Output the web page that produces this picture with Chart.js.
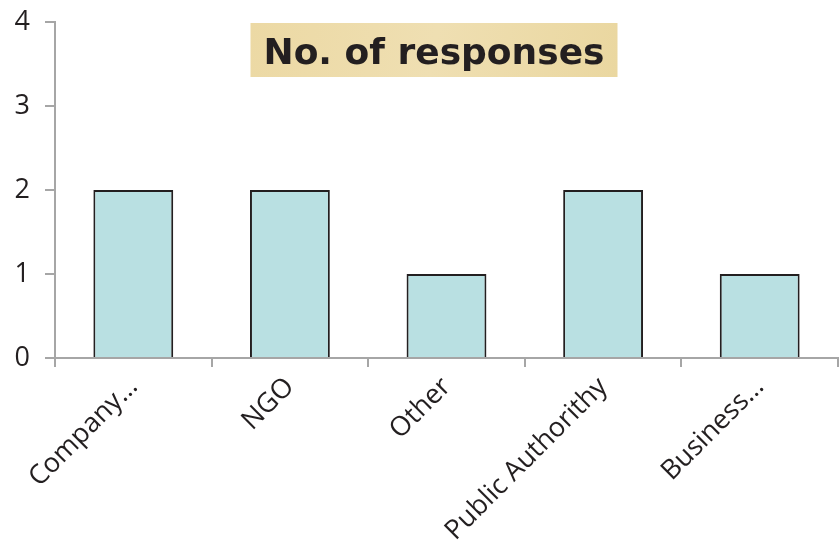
<!DOCTYPE html>
<html lang="en">
<head>
    <meta charset="UTF-8">
    <title>No. of responses</title>
    <script src="https://cdn.jsdelivr.net/npm/chart.js"></script>
    <style>
        body {
            margin: 0;
            padding: 0;
            background: #ffffff;
        }
        #wrap {
            width: 840px;
            height: 554px;
            position: relative;
        }
    </style>
</head>
<body>
    <div id="wrap"><canvas id="responsesChart" width="840" height="554"></canvas></div>
    <script>
        const categories = ['Company…', 'NGO', 'Other', 'Public Authorithy', 'Business…'];
        const responses = [2, 2, 1, 2, 1];
        const yTicks = [0, 1, 2, 3, 4];
        const chartTitle = 'No. of responses';

        // title sits on a parchment-coloured box inside the plot area
        const titleBox = {
            id: 'titleBox',
            afterDatasetsDraw(chart) {
                const c = chart.ctx;
                const area = chart.chartArea;
                const cx = area.left + 379;
                const top = area.top + 1;
                const w = 367, h = 54;
                c.save();
                const g = c.createLinearGradient(cx - w / 2, top, cx + w / 2, top + h);
                g.addColorStop(0, '#ecd9a4');
                g.addColorStop(0.5, '#efdfb2');
                g.addColorStop(1, '#ead7a0');
                c.fillStyle = g;
                c.fillRect(cx - w / 2, top, w, h);
                c.font = 'bold 36px "DejaVu Sans", Verdana, sans-serif';
                c.fillStyle = '#231f20';
                c.textAlign = 'center';
                c.textBaseline = 'alphabetic';
                c.fillText(chartTitle, cx, top + 41);
                c.restore();
            }
        };

        const ctx = document.getElementById('responsesChart').getContext('2d');
        new Chart(ctx, {
            type: 'bar',
            data: {
                labels: categories,
                datasets: [{
                    label: chartTitle,
                    data: responses,
                    backgroundColor: '#b9e0e2',
                    borderColor: '#231f20',
                    borderWidth: 2,
                    categoryPercentage: 1,
                    barPercentage: 0.51
                }]
            },
            plugins: [titleBox],
            options: {
                responsive: false,
                animation: false,
                layout: {
                    padding: { top: 22, right: 2, left: 0, bottom: 0 }
                },
                plugins: {
                    legend: { display: false },
                    title: { display: false },
                    tooltip: { enabled: false }
                },
                scales: {
                    x: {
                        afterFit(scale) {
                            scale.height = 196;
                            scale.paddingLeft = 0;
                            scale.paddingRight = 0;
                        },
                        border: { color: '#a6a6a6', width: 2 },
                        grid: {
                            offset: true,
                            drawOnChartArea: false,
                            color: '#a6a6a6',
                            lineWidth: 2,
                            tickLength: 9
                        },
                        ticks: {
                            minRotation: 45,
                            maxRotation: 45,
                            padding: 4,
                            color: '#231f20',
                            font: { family: '"Open Sans", sans-serif', size: 27 }
                        }
                    },
                    y: {
                        min: 0,
                        max: 4,
                        afterFit(scale) {
                            scale.width = 55;
                            scale.paddingTop = 0;
                            scale.paddingBottom = 0;
                        },
                        afterBuildTicks(scale) {
                            scale.ticks = yTicks.map(v => ({ value: v }));
                        },
                        border: { color: '#a6a6a6', width: 2 },
                        grid: {
                            drawOnChartArea: false,
                            color: '#a6a6a6',
                            lineWidth: 2,
                            tickLength: 10
                        },
                        ticks: {
                            padding: 15,
                            color: '#231f20',
                            font: { family: '"Open Sans", sans-serif', size: 27 }
                        }
                    }
                }
            }
        });
    </script>
</body>
</html>
